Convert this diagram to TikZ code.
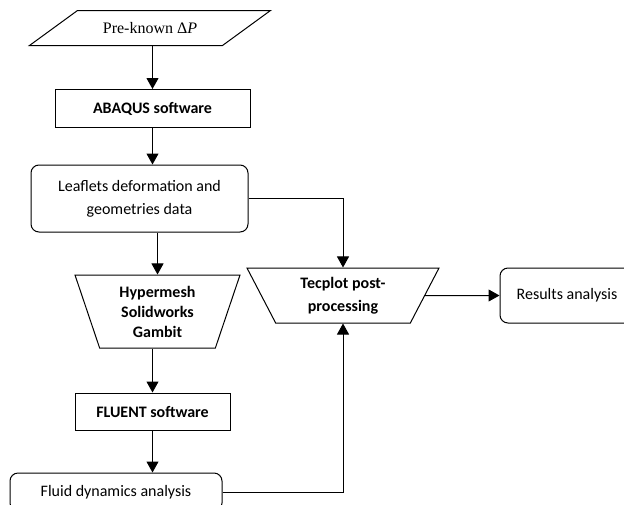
\documentclass[tikz,border=0pt]{standalone}
\usepackage{fontspec}
\setmainfont{Carlito}
\newfontfamily\serifrm{Liberation Serif}
\usetikzlibrary{arrows.meta, positioning, shapes.geometric, calc}

\begin{document}
\begin{tikzpicture}[
    x=1pt, y=-1pt,
    every node/.style={draw, line width=1pt, font=\fontsize{16}{23}\selectfont, align=center, inner sep=2pt},
    box/.style={rectangle, minimum width=#1, minimum height=38pt},
    roundbox/.style={rectangle, rounded corners=8pt, minimum width=#1},
    trap/.style={trapezium, shape border rotate=180, trapezium stretches body},
    arr/.style={-{Triangle[length=11pt, width=12pt]}, line width=1pt}
  ]
  \useasboundingbox (0,0) rectangle (624,504);

  % left column
  \node[draw=none, minimum width=192pt, minimum height=34pt] (known) at (150,28) {\serifrm Pre-known Δ\textit{P}};
  \draw[line width=1pt] ([xshift=-24pt]known.south west) -- ([xshift=24pt]known.north west)
    -- ([xshift=24pt]known.north east) -- ([xshift=-24pt]known.south east) -- cycle;
  \node[box=195pt, font=\fontsize{16}{23}\selectfont\bfseries] (abaqus) at (152.5,108.5) {ABAQUS software};
  \node[roundbox=217pt, minimum height=67pt] (leaf) at (139.5,198.5) {Leaflets deformation and\\geometries data};
  \node[trap, trapezium left angle=66, trapezium right angle=66, minimum width=165pt, minimum height=73pt,
        font=\fontsize{16}{20}\selectfont\bfseries] (mesh) at (157.5,311.5) {Hypermesh\\Solidworks\\Gambit};
  \node[box=155pt, minimum height=37pt, font=\fontsize{16}{23}\selectfont\bfseries] (fluent) at (152.5,411.5) {FLUENT software};
  \node[roundbox=212pt, minimum height=38pt] (fluid) at (116,492) {Fluid dynamics analysis};

  % right part
  \node[trap, trapezium left angle=55, trapezium right angle=55, minimum width=192pt, minimum height=55pt,
        font=\fontsize{16}{23}\selectfont\bfseries] (tecplot) at (343,295.5) {Tecplot post-\\processing};
  \node[roundbox=134pt, minimum height=55pt] (results) at (567,295.5) {Results analysis};

  \draw[arr] (known.south -| abaqus.north) -- (abaqus.north);
  \draw[arr] (abaqus.south) -- (leaf.north -| abaqus.south);
  \draw[arr] (leaf.south -| mesh.north) -- (mesh.north);
  \draw[arr] (mesh.south -| fluent.north) -- (fluent.north);
  \draw[arr] (fluent.south) -- (fluid.north -| fluent.south);
  \draw[arr] (leaf.east) -| (tecplot.north);
  \draw[arr] (fluid.east) -| (tecplot.south);
  \draw[arr] (tecplot.east) -- (results.west);
\end{tikzpicture}
\end{document}
